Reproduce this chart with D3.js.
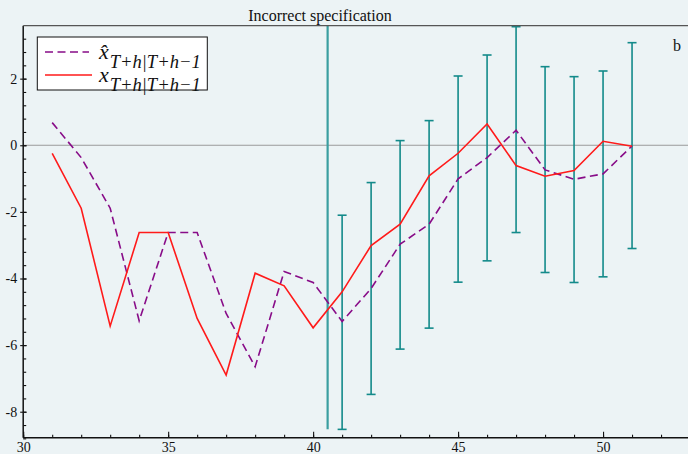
<!DOCTYPE html>
<html>
<head>
<meta charset="utf-8">
<script src="https://cdn.jsdelivr.net/npm/d3@7"></script>
<style>
  body { margin: 0; background: #ecf3f5; }
  svg text { font-family: "Liberation Serif", "Times New Roman", Times, "DejaVu Serif", serif; }
</style>
</head>
<body>
<svg width="688" height="454"></svg>
<script>
// horizons of the forecast
let periods = [31, 32, 33, 34, 35, 36, 37, 38, 39, 40, 41, 42, 43, 44, 45, 46, 47, 48, 49, 50, 51];
// actual series x
let actual = [-0.24, -1.89, -5.43, -2.62, -2.62, -5.2, -6.9, -3.84, -4.22, -5.48, -4.4,
              -3.01, -2.37, -0.92, -0.24, 0.64, -0.61, -0.93, -0.76, 0.12, -0.03];
// one-step forecast x hat
let forecast = [0.68, -0.37, -1.89, -5.27, -2.62, -2.62, -5.05, -6.65, -3.79, -4.12, -5.29,
                -4.3, -2.97, -2.37, -1.01, -0.37, 0.45, -0.74, -1.02, -0.86, -0.02];
// error bands for the out-of-sample part
let barPeriods = [41, 42, 43, 44, 45, 46, 47, 48, 49, 50, 51];
let barLow  = [-8.53, -7.48, -6.12, -5.49, -4.11, -3.47, -2.62, -3.82, -4.12, -3.95, -3.1];
let barHigh = [-2.1, -1.12, 0.14, 0.74, 2.08, 2.71, 3.56, 2.36, 2.06, 2.23, 3.08];
// forecast origin marker
let splitAt = 40.5, splitLow = -8.53;

let xTicks = [30, 35, 40, 45, 50];
let yTicks = [-8, -6, -4, -2, 0, 2];

let serif = "'Liberation Serif', 'Times New Roman', Times, 'DejaVu Serif', serif";

let svg = d3.select("svg");
let bg = "#ecf3f5";
svg.append("rect").attr("width", 688).attr("height", 454).attr("fill", bg);

let x = d3.scaleLinear().domain([30, 52.93]).range([23.2, 688]);
let y = d3.scaleLinear().domain([-8.78, 3.59]).range([437.7, 25.7]);

let plot = svg.append("g");

// zero line
plot.append("line")
    .attr("x1", x(30)).attr("x2", 688)
    .attr("y1", y(0)).attr("y2", y(0))
    .attr("stroke", "#9a9a9a").attr("stroke-width", 1.2);

// error bars
let bars = plot.append("g").attr("stroke", "#138a8a").attr("stroke-width", 1.6);
barPeriods.forEach(function(p, i){
    bars.append("line")
        .attr("x1", x(p)).attr("x2", x(p))
        .attr("y1", y(barLow[i])).attr("y2", y(barHigh[i]));
    [barLow[i], barHigh[i]].forEach(function(v){
        bars.append("line")
            .attr("x1", x(p) - 4.5).attr("x2", x(p) + 4.5)
            .attr("y1", y(v)).attr("y2", y(v));
    });
});

plot.append("line")
    .attr("x1", x(splitAt)).attr("x2", x(splitAt))
    .attr("y1", y(splitLow)).attr("y2", y(3.59))
    .attr("stroke", "#3a9ea0").attr("stroke-width", 2.2);

let line = d3.line()
    .x(function(d){ return x(d[0]); })
    .y(function(d){ return y(d[1]); });

plot.append("path")
    .datum(periods.map(function(p, i){ return [p, forecast[i]]; }))
    .attr("d", line)
    .attr("fill", "none")
    .attr("stroke", "#880c88")
    .attr("stroke-width", 1.6)
    .attr("stroke-dasharray", "8,4.5");

plot.append("path")
    .datum(periods.map(function(p, i){ return [p, actual[i]]; }))
    .attr("d", line)
    .attr("fill", "none")
    .attr("stroke", "#ff1a1a")
    .attr("stroke-width", 1.6);

// axes
let xAxis = d3.axisBottom(x).tickValues(xTicks).tickSize(-6).tickPadding(4).tickFormat(d3.format("d"));
let xMinor = d3.axisBottom(x).tickValues(d3.range(30, 53)).tickSize(-3).tickFormat("");
let yAxis = d3.axisLeft(y).tickValues(yTicks).tickSize(3).tickPadding(3).tickFormat(function(d){ return String(d); });
let yMinor = d3.axisLeft(y).tickValues(d3.range(-8.8, 3.6, 0.4).map(function(v){ return +v.toFixed(1); })).tickSize(-3).tickFormat("");

function styleAxis(g){
    g.select(".domain").remove();
    g.attr("font-family", null);
    g.selectAll("line").attr("stroke", "#111").attr("stroke-width", 1.1);
    g.selectAll("text").attr("fill", "#111").attr("font-size", 14).attr("font-family", serif);
}

svg.append("g").attr("transform", "translate(0," + 437.7 + ")").call(xMinor).call(styleAxis);
svg.append("g").attr("transform", "translate(0," + 437.7 + ")").call(xAxis).call(styleAxis);
svg.append("g").attr("transform", "translate(23.2,0)").call(yMinor).call(styleAxis);
let ya = svg.append("g").attr("transform", "translate(23.2,0)").call(yAxis).call(styleAxis);
ya.selectAll(".tick line").attr("x2", 3.5).attr("x1", -3);

// frame lines
svg.append("line").attr("x1", 23.2).attr("x2", 23.2).attr("y1", 25.7).attr("y2", 437.7)
    .attr("stroke", "#111").attr("stroke-width", 1.5);
svg.append("line").attr("x1", 23.2).attr("x2", 688).attr("y1", 437.7).attr("y2", 437.7)
    .attr("stroke", "#111").attr("stroke-width", 1.5);
svg.append("line").attr("x1", 23.2).attr("x2", 688).attr("y1", 25.7).attr("y2", 25.7)
    .attr("stroke", "#555").attr("stroke-width", 1.2);

// title and panel letter
svg.append("text").attr("x", 320).attr("y", 20.5).attr("text-anchor", "middle")
    .attr("font-family", serif).attr("font-size", 16).attr("fill", "#111").text("Incorrect specification");
svg.append("text").attr("x", 677).attr("y", 50.5).attr("text-anchor", "middle")
    .attr("font-family", serif).attr("font-size", 16).attr("fill", "#111").text("b");

// legend
let lg = svg.append("g");
lg.append("rect").attr("x", 37.3).attr("y", 37).attr("width", 170).attr("height", 53)
    .attr("fill", "#fff").attr("stroke", "#111").attr("stroke-width", 1);
lg.append("line").attr("x1", 45).attr("x2", 89).attr("y1", 52).attr("y2", 52)
    .attr("stroke", "#880c88").attr("stroke-width", 1.6).attr("stroke-dasharray", "8,4.5");
lg.append("line").attr("x1", 45).attr("x2", 92).attr("y1", 75).attr("y2", 75)
    .attr("stroke", "#ff1a1a").attr("stroke-width", 1.6);

let labels = [{y: 59, sym: "x\u0302"}, {y: 82, sym: "x"}];
labels.forEach(function(l){
    let t = lg.append("text").attr("x", 99).attr("y", l.y).attr("fill", "#111")
        .attr("font-family", serif).attr("font-style", "italic");
    t.append("tspan").attr("font-size", 22).text(l.sym);
    t.append("tspan").attr("dy", 9).attr("dx", 1).attr("font-size", 18.5).text("T+h|T+h\u22121");
});
</script>
</body>
</html>
